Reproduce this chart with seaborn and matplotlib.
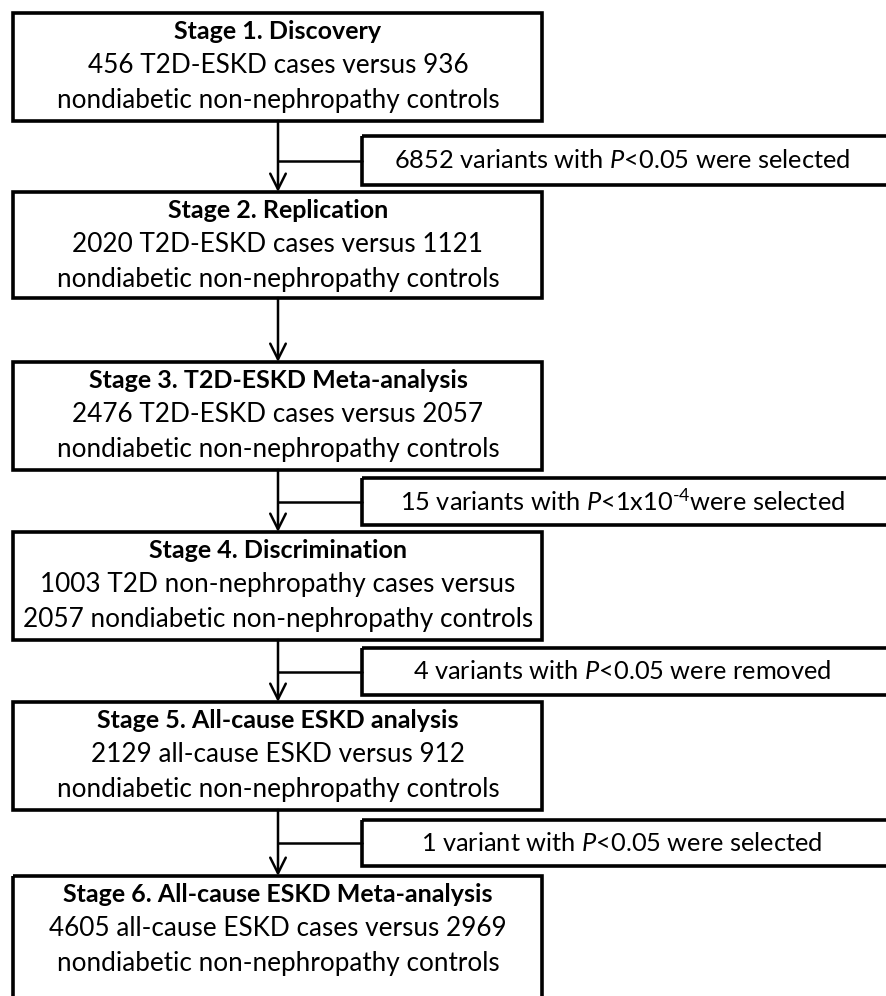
import matplotlib
matplotlib.use("Agg")
import matplotlib.pyplot as plt
from matplotlib.patches import Rectangle
import seaborn as sns

# ---- data ----
stage_titles = [
    "Stage 1. Discovery",
    "Stage 2. Replication",
    "Stage 3. T2D-ESKD Meta-analysis",
    "Stage 4. Discrimination",
    "Stage 5. All-cause ESKD analysis",
    "Stage 6. All-cause ESKD Meta-analysis",
]
stage_line1 = [
    "456 T2D-ESKD cases versus 936",
    "2020 T2D-ESKD cases versus 1121",
    "2476 T2D-ESKD cases versus 2057",
    "1003 T2D non-nephropathy cases versus",
    "2129 all-cause ESKD versus 912",
    "4605 all-cause ESKD cases versus 2969",
]
stage_line2 = [
    "nondiabetic non-nephropathy controls",
    "nondiabetic non-nephropathy controls",
    "nondiabetic non-nephropathy controls",
    "2057 nondiabetic non-nephropathy controls",
    "nondiabetic non-nephropathy controls",
    "nondiabetic non-nephropathy controls",
]
# filter notes, keyed by the stage after which they appear (None = no note)
filter_notes = [
    "6852 variants with $P$<0.05 were selected",
    None,
    "15 variants with $P$<1x10$^{\u2010 4}$were selected",
    "4 variants with $P$<0.05 were removed",
    "1 variant with $P$<0.05 were selected",
]

# ---- layout ----
sns.set_theme(style="white")
plt.rcParams["font.family"] = ["Lato", "DejaVu Sans"]
plt.rcParams["mathtext.fontset"] = "custom"
plt.rcParams["mathtext.rm"] = "Lato"
plt.rcParams["mathtext.it"] = "Lato:italic"
plt.rcParams["mathtext.bf"] = "Lato:bold"

W, H = 887, 996
fig = plt.figure(figsize=(W / 100, H / 100), dpi=100)
ax = fig.add_axes([0, 0, 1, 1])
ax.set_xlim(0, W)
ax.set_ylim(H, 0)
ax.axis("off")

box_left, box_right = 13, 542
box_tops = [13, 192, 362, 532, 702, 876]
box_hs = [108, 106, 108, 108, 108, 140]
cx = 278
side_left, side_right = 362, 900
side_boxes = [(136, 185), None, (478, 525), (648, 695), (820, 866)]
fs_title, fs_body, fs_note = 18.0, 18.8, 18.3

for i, top in enumerate(box_tops):
    ax.add_patch(Rectangle((box_left, top), box_right - box_left, box_hs[i],
                           fill=False, ec="black", lw=2.6, zorder=3))
    ax.text(cx, top + 18, stage_titles[i], ha="center", va="center",
            fontsize=fs_title, fontweight="bold", color="black")
    ax.text(cx, top + 52, stage_line1[i], ha="center", va="center",
            fontsize=fs_body, color="black")
    ax.text(cx, top + 87, stage_line2[i], ha="center", va="center",
            fontsize=fs_body, color="black")

for i in range(len(box_tops) - 1):
    y0 = box_tops[i] + box_hs[i]
    y1 = box_tops[i + 1]
    ax.annotate("", xy=(cx, y1), xytext=(cx, y0),
                arrowprops=dict(arrowstyle="->", lw=1.8, color="black",
                                mutation_scale=28, shrinkA=0, shrinkB=0))
    sb = side_boxes[i]
    if sb is not None and filter_notes[i] is not None:
        st, sbot = sb
        ax.add_patch(Rectangle((side_left, st), side_right - side_left, sbot - st,
                               fill=False, ec="black", lw=2.6, zorder=3))
        ym = (st + sbot) / 2
        sns.lineplot(x=[cx, side_left], y=[ym, ym], ax=ax, color="black",
                     lw=1.8, legend=False)
        ax.text(622, ym, filter_notes[i], ha="center", va="center",
                fontsize=fs_note, color="black")

ax.set_xlim(0, W)
ax.set_ylim(H, 0)
fig.savefig("out.png", dpi=100)
